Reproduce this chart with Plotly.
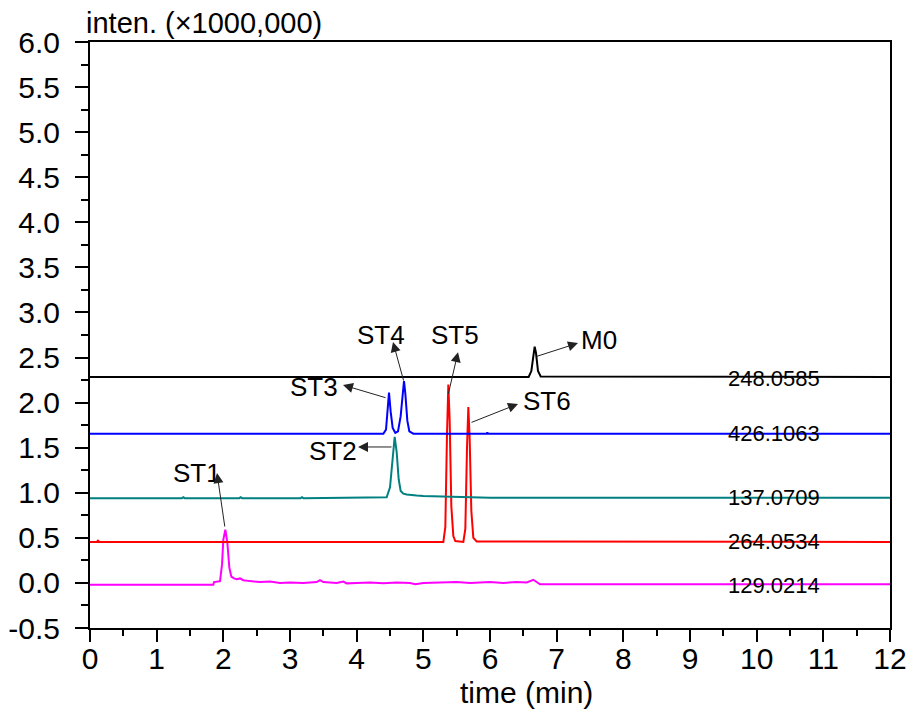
import plotly.graph_objects as go

# ---------------- data ----------------
# 129.0214 (magenta)
t_129 = [0, 1.85, 1.86, 1.95, 1.98, 2.00, 2.03, 2.06, 2.09, 2.12, 2.16, 2.20, 2.25, 2.30, 2.40, 2.55,
         2.70, 2.85, 3.00, 3.20, 3.40, 3.45, 3.50, 3.70, 3.80, 3.85, 4.00, 4.20, 4.40, 4.60, 4.80,
         4.88, 5.00, 5.20, 5.50, 5.70, 5.85, 6.00, 6.20, 6.40, 6.55, 6.65, 6.75, 7.00, 8.00, 9.00,
         10.00, 11.00, 12.00]
y_129 = [-0.02, -0.02, 0.01, 0.02, 0.20, 0.48, 0.59, 0.45, 0.17, 0.07, 0.05, 0.04, 0.05, 0.03, 0.02, 0.01,
         0.015, 0.0, 0.005, 0.0, 0.01, 0.03, 0.01, 0.0, 0.015, -0.005, 0.0, 0.005, -0.005, 0.005, 0.0,
         -0.015, 0.0, 0.005, 0.01, 0.0, 0.005, 0.01, 0.0, 0.01, 0.005, 0.035, -0.015, -0.015, -0.015, -0.015,
         -0.015, -0.015, -0.015]

# 264.0534 (red)
t_264 = [0, 0.10, 0.12, 0.14, 5.30, 5.33, 5.355, 5.375, 5.395, 5.42, 5.45, 5.48, 5.60, 5.63, 5.655,
         5.675, 5.695, 5.72, 5.75, 5.80, 12.00]
y_264 = [0.455, 0.455, 0.47, 0.455, 0.455, 0.62, 1.65, 2.20, 1.80, 0.85, 0.52, 0.465, 0.455, 0.60, 1.50,
         1.95, 1.60, 0.80, 0.50, 0.46, 0.455]

# 137.0709 (teal)
t_137 = [0, 1.38, 1.40, 1.42, 2.24, 2.26, 2.28, 3.16, 3.18, 3.20, 4.45, 4.50, 4.53, 4.57, 4.60, 4.63,
         4.66, 4.70, 4.75, 4.80, 4.90, 5.00, 5.20, 5.50, 6.00, 12.00]
y_137 = [0.94, 0.94, 0.95, 0.94, 0.94, 0.95, 0.94, 0.94, 0.95, 0.94, 0.95, 1.06, 1.30, 1.62, 1.45, 1.15,
         1.02, 0.99, 0.98, 0.975, 0.97, 0.965, 0.96, 0.955, 0.945, 0.945]

# 426.1063 (blue)
t_426 = [0, 4.40, 4.44, 4.46, 4.485, 4.51, 4.54, 4.58, 4.62, 4.66, 4.69, 4.71, 4.73, 4.76, 4.79,
         4.85, 5.95, 5.96, 5.97, 12.00]
y_426 = [1.655, 1.655, 1.70, 1.90, 2.11, 1.90, 1.72, 1.665, 1.68, 1.85, 2.10, 2.24, 2.10, 1.80, 1.68,
         1.655, 1.655, 1.67, 1.655, 1.655]

# 248.0585 (black)
t_248 = [0, 6.58, 6.62, 6.65, 6.67, 6.69, 6.72, 6.76, 12.00]
y_248 = [2.285, 2.285, 2.35, 2.55, 2.62, 2.55, 2.35, 2.29, 2.285]

series_names = ["129.0214", "264.0534", "137.0709", "426.1063", "248.0585"]
series_colors = ["#FF00FF", "#FF0000", "#008080", "#0000FF", "#000000"]
series_t = [t_129, t_264, t_137, t_426, t_248]
series_y = [y_129, y_264, y_137, y_426, y_248]
label_y = [-0.03, 0.454, 0.953, 1.652, 2.27]

peak_labels = ["ST1", "ST2", "ST3", "ST4", "ST5", "ST6", "M0"]
label_pos = [(1.605, 1.219), (3.645, 1.464), (3.36, 2.173), (4.365, 2.75), (5.475, 2.75), (6.855, 2.018), (7.635, 2.695)]
arrow_tip = [(1.905, 1.219), (4.02, 1.508), (3.795, 2.195), (4.545, 2.672), (5.52, 2.56), (6.42, 1.985), (7.32, 2.66)]
arrow_tail = [(2.025, 0.609), (4.545, 1.508), (4.455, 2.05), (4.71, 2.228), (5.37, 2.08), (5.70, 1.774), (6.675, 2.507)]

x_ticks = list(range(0, 13))
y_tick_vals = [-0.5, 0.0, 0.5, 1.0, 1.5, 2.0, 2.5, 3.0, 3.5, 4.0, 4.5, 5.0, 5.5, 6.0]
y_tick_text = ["-0.5", "0.0", "0.5", "1.0", "1.5", "2.0", "2.5", "3.0", "3.5", "4.0", "4.5", "5.0", "5.5", "6.0"]

# ---------------- figure ----------------
FONT = "Liberation Sans, Arial, sans-serif"
fig = go.Figure()
for name, col, tt, yy in zip(series_names, series_colors, series_t, series_y):
    fig.add_trace(go.Scatter(x=tt, y=yy, mode="lines", name=name,
                             line=dict(color=col, width=2), showlegend=False, hoverinfo="skip"))

ann = []
for name, ly in zip(series_names, label_y):
    ann.append(dict(x=10.26, y=ly, xref="x", yref="y", text=name, showarrow=False,
                    font=dict(family=FONT, size=22, color="black"), xanchor="center", yanchor="middle"))

for lab, (lx, ly), (hx, hy), (tx, ty) in zip(peak_labels, label_pos, arrow_tip, arrow_tail):
    ann.append(dict(x=lx, y=ly, xref="x", yref="y", text=lab, showarrow=False,
                    font=dict(family=FONT, size=26, color="black"), xanchor="center", yanchor="middle"))
    ann.append(dict(x=hx, y=hy, xref="x", yref="y", ax=tx, ay=ty, axref="x", ayref="y",
                    text="", showarrow=True, arrowhead=2, arrowsize=2, arrowwidth=1,
                    arrowcolor="#222222"))

ann.append(dict(x=0, y=1.033, xref="paper", yref="paper", text="inten. (×1000,000)",
                showarrow=False, xanchor="left", yanchor="middle", xshift=-6,
                font=dict(family=FONT, size=29, color="black")))
ann.append(dict(x=6.55, y=-0.11, xref="x", yref="paper", text="time (min)",
                showarrow=False, xanchor="center", yanchor="middle",
                font=dict(family=FONT, size=30, color="black")))

# page body adds an 8px offset, so the figure is drawn 8px smaller
fig.update_layout(
    width=909, height=705,
    margin=dict(l=82, r=27, t=34, b=85, autoexpand=False),
    paper_bgcolor="white", plot_bgcolor="white",
    annotations=ann,
    xaxis=dict(range=[0, 12], tickvals=x_ticks, ticks="outside", ticklen=12, tickwidth=2,
               tickcolor="black", showline=True, linewidth=2, linecolor="black", mirror=True,
               showgrid=False, zeroline=False, automargin=False, ticklabelstandoff=-9,
               minor=dict(dtick=0.5, ticks="outside", ticklen=6, tickwidth=2, tickcolor="black", showgrid=False),
               tickfont=dict(family=FONT, size=30, color="black")),
    yaxis=dict(range=[-0.5, 6.0], tickvals=y_tick_vals, ticktext=y_tick_text, ticks="outside",
               ticklen=13, tickwidth=2, tickcolor="black", showline=True, linewidth=2,
               linecolor="black", mirror=True, showgrid=False, zeroline=False, automargin=False,
               ticklabelstandoff=9,
               minor=dict(dtick=0.25, ticks="outside", ticklen=7, tickwidth=2, tickcolor="black", showgrid=False),
               tickfont=dict(family=FONT, size=30, color="black")),
)

fig.write_html("out.html")
